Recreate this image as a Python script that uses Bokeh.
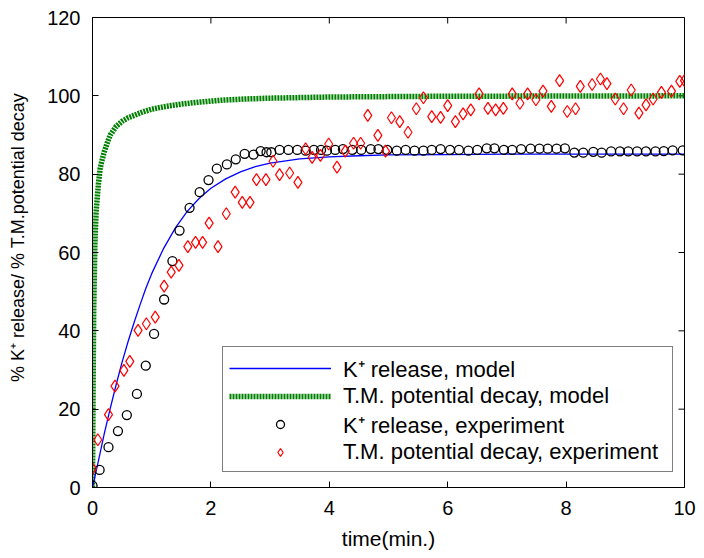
import math
from bokeh.plotting import figure
from bokeh.models import FixedTicker, Legend, LegendItem, Range1d
from bokeh.embed import file_html
from bokeh.resources import INLINE

# ---------------- data ----------------
x_ticks = [0, 2, 4, 6, 8, 10]
y_ticks = [0, 20, 40, 60, 80, 100, 120]
x_lim = [0, 10]
y_lim = [0, 120]

# K+ release, model (blue line)
k_model_t = [0, 0.1, 0.2, 0.3, 0.4, 0.5, 0.6, 0.7, 0.8, 0.9, 1.0, 1.2, 1.4, 1.6,
             1.8, 2.0, 2.25, 2.5, 2.75, 3.0, 3.5, 4.0, 4.5, 5.0, 6.0, 7.0, 8.0, 9.0, 10.0]
k_model_v = [0, 6.8, 13.8, 20.2, 26.3, 32.0, 37.2, 42.0, 46.5, 50.8, 54.6, 61.0, 66.3, 70.5,
             73.8, 76.4, 78.8, 80.6, 81.9, 82.8, 83.9, 84.4, 84.7, 84.9, 85.0, 85.1, 85.1, 85.1, 85.1]

# T.M. potential decay, model (green dotted)
tm_model_t = [0, 0.01, 0.02, 0.04, 0.06, 0.08, 0.1, 0.13, 0.16, 0.2, 0.25, 0.3, 0.4, 0.5,
              0.6, 0.7, 0.85, 1.0, 1.2, 1.5, 1.8, 2.2, 2.6, 3.0, 4.0, 5.0, 6.0, 8.0, 10.0]
tm_model_v = [0, 25, 45, 62, 70, 74, 77.5, 81.5, 83.5, 85.8, 88.0, 90.0, 92.2, 93.5,
              94.4, 95.0, 95.9, 96.6, 97.2, 97.9, 98.4, 98.9, 99.2, 99.4, 99.7, 99.8, 99.9, 99.95, 100.0]

# K+ release, experiment (black circles)
k_exp_t = [0, 0.12, 0.27, 0.43, 0.58, 0.75, 0.90, 1.04, 1.21, 1.35, 1.47, 1.64, 1.81, 1.96,
           2.10, 2.27, 2.42, 2.57, 2.72, 2.84, 2.94, 3.02, 3.16, 3.31, 3.46,
           3.60, 3.74, 3.86, 3.96, 4.10, 4.23, 4.39, 4.54, 4.70, 4.83, 4.98, 5.14, 5.29,
           5.44, 5.59, 5.73, 5.88, 6.04, 6.19, 6.35, 6.50,
           6.66, 6.79, 6.95, 7.09, 7.24, 7.40, 7.55, 7.69, 7.84, 7.98,
           8.14, 8.29, 8.46, 8.60, 8.76, 8.91, 9.05, 9.20, 9.35, 9.51, 9.65, 9.80, 9.97]
k_exp_v = [0.5, 4.5, 10.3, 14.4, 18.5, 23.9, 31.1, 39.2, 48.0, 57.8, 65.6, 71.4, 75.4, 78.5,
           81.4, 82.5, 83.8, 85.2, 85.0, 85.9, 85.6, 85.6, 86.2, 86.2, 86.2,
           86.0, 86.2, 86.2, 86.0, 86.2, 86.4, 86.2, 86.2, 86.4, 86.4, 86.2, 86.0, 86.2,
           86.0, 86.0, 86.2, 86.4, 86.2, 86.2, 86.0, 86.2,
           86.6, 86.6, 86.2, 86.2, 86.4, 86.5, 86.5, 86.5, 86.5, 86.6,
           85.5, 85.5, 85.7, 85.5, 85.8, 85.8, 85.8, 85.8, 85.8, 85.8, 85.9, 86.1, 86.1]

# T.M. potential decay, experiment (red diamonds)
tm_exp_t = [0.0, 0.09, 0.27, 0.38, 0.53, 0.63, 0.77, 0.91, 1.06, 1.21, 1.33, 1.46, 1.61, 1.74,
            1.86, 1.97, 2.12, 2.26, 2.41, 2.53, 2.66, 2.77, 2.93, 3.05, 3.16, 3.33, 3.47,
            3.60, 3.71, 3.85, 3.99, 4.13, 4.27, 4.41, 4.53, 4.65, 4.82, 4.95, 5.05, 5.19,
            5.33, 5.47, 5.59, 5.73, 5.88, 6.00, 6.13, 6.26, 6.39, 6.53, 6.68, 6.81, 6.94,
            7.09, 7.22, 7.35, 7.49, 7.61, 7.75, 7.89, 8.02, 8.16, 8.24, 8.44, 8.58, 8.69,
            8.83, 8.97, 9.10, 9.23, 9.35, 9.47, 9.61, 9.78, 9.92, 10.0]
tm_exp_v = [4.8, 12.2, 18.6, 25.9, 29.9, 32.2, 40.1, 41.8, 43.5, 51.4, 55.0, 56.7, 61.5, 62.6,
            62.6, 67.5, 61.5, 69.9, 75.4, 72.8, 72.8, 78.6, 78.6, 83.3, 79.9, 80.3, 77.9,
            86.5, 84.3, 84.8, 87.7, 81.8, 85.9, 87.9, 87.9, 95.0, 89.9, 85.9, 94.4, 93.4,
            90.7, 96.7, 99.5, 94.7, 94.5, 97.5, 93.4, 95.4, 96.4, 100.5, 96.8, 96.4, 96.8,
            100.5, 98.1, 100.5, 99.0, 101.2, 97.3, 103.9, 96.0, 96.7, 102.4, 102.9, 104.3, 103.1,
            99.2, 96.7, 101.5, 95.6, 97.7, 99.2, 100.9, 101.2, 103.7, 103.9]

labels = ["K\u207a release, model", "T.M. potential decay, model",
          "K\u207a release, experiment", "T.M. potential decay, experiment"]
x_title = "time(min.)"
y_title = "% K\u207a release/ % T.M.potential decay"

FONT = "Liberation Sans"

# ---------------- figure ----------------
p = figure(width=700, height=558, output_backend="svg", toolbar_location=None,
           x_range=Range1d(*x_lim), y_range=Range1d(*y_lim),
           min_border_left=92, min_border_right=16, min_border_top=17, min_border_bottom=71,
           background_fill_color="white", border_fill_color="white")
p.grid.visible = False
p.outline_line_color = "black"
p.outline_line_width = 1

for ax, tk in ((p.xaxis, x_ticks), (p.yaxis, y_ticks)):
    ax.ticker = FixedTicker(ticks=tk)
    ax.major_tick_in = 6
    ax.major_tick_out = 0
    ax.minor_tick_in = 0
    ax.minor_tick_out = 0
    ax.major_label_text_font = FONT
    ax.major_label_text_font_size = "20px"
    ax.major_label_text_color = "black"
    ax.axis_line_color = "black"
    ax.major_tick_line_color = "black"
    ax.axis_label_text_font = FONT
    ax.axis_label_text_font_style = "normal"
    ax.axis_label_text_color = "black"

p.xaxis.major_label_standoff = 13
p.yaxis.major_label_standoff = 12
p.xaxis.axis_label = x_title
p.xaxis.axis_label_text_font_size = "21px"
p.xaxis.axis_label_text_font_style = "normal"
p.xaxis.axis_label_standoff = 9
# leading no-break spaces shift the centred title upward, as in the original
p.yaxis.axis_label = "\u00a0" * 6 + y_title
p.yaxis.axis_label_text_font_size = "18px"
p.yaxis.axis_label_text_font_style = "normal"
p.yaxis.axis_label_standoff = 16

# mirrored inward ticks on the top and right edges of the box
p.ray(x=x_ticks, y=[y_lim[1]] * len(x_ticks), length=6, length_units="screen",
      angle=-math.pi / 2, line_color="black", line_width=1)
p.ray(x=[x_lim[1]] * len(y_ticks), y=y_ticks, length=6, length_units="screen",
      angle=math.pi, line_color="black", line_width=1)

# ---------------- glyphs ----------------
r_tm = p.line(tm_model_t, tm_model_v, line_color="#008000", line_width=5.5, line_dash="2 1")
r_k = p.line(k_model_t, k_model_v, line_color="#0000ff", line_width=1.3)
r_kc = p.scatter(k_exp_t, k_exp_v, marker="circle", size=9, fill_color=None,
                 line_color="black", line_width=1.3)
r_td = p.scatter(tm_exp_t, tm_exp_v, marker="diamond", size=12, fill_color=None,
                 line_color="#ff0000", line_width=1.2)

legend = Legend(items=[LegendItem(label=labels[0], renderers=[r_k]),
                       LegendItem(label=labels[1], renderers=[r_tm]),
                       LegendItem(label=labels[2], renderers=[r_kc]),
                       LegendItem(label=labels[3], renderers=[r_td])],
                location=(130, 15), orientation="vertical",
                glyph_width=102, glyph_height=20, label_height=20, label_width=323,
                label_standoff=12, spacing=0, padding=6, margin=0,
                label_text_font=FONT, label_text_font_size="22px",
                label_text_color="black",
                border_line_color="black", border_line_width=1,
                background_fill_color="white", background_fill_alpha=1.0)
p.add_layout(legend)

open("out.html", "w").write(file_html(p, INLINE))
